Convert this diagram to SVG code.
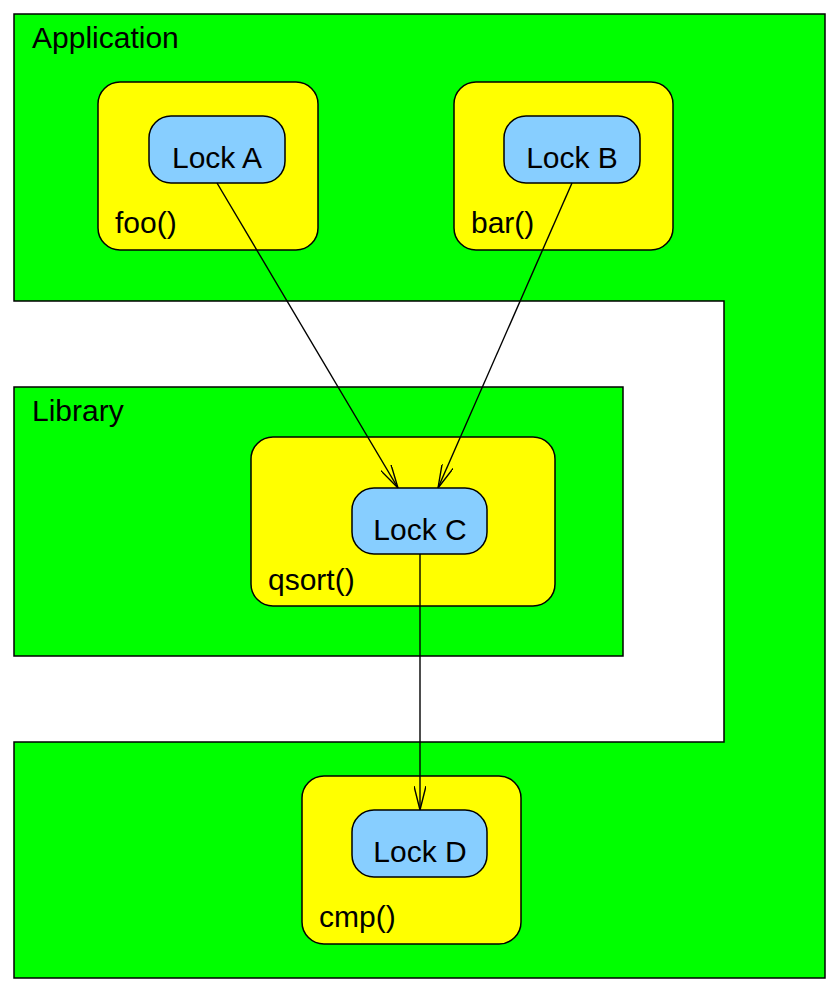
<svg xmlns="http://www.w3.org/2000/svg" width="840" height="994" viewBox="0 0 840 994">
<defs>
<style>
.grn{fill:#00ff00;stroke:#000;stroke-width:1.5}
.fn{fill:#ffff00;stroke:#000;stroke-width:1.5}
.lk{fill:#87ceff;stroke:#000;stroke-width:1.5}
text{font-family:"Liberation Sans",Arial,sans-serif;font-size:30px;fill:#000}
.c{text-anchor:middle}
.ed{fill:none;stroke:#000;stroke-width:1.4}
</style>
<marker id="ah" viewBox="0 0 24 12" refX="24" refY="6" markerWidth="24" markerHeight="12" markerUnits="userSpaceOnUse" orient="auto">
<path d="M0,0 L24,6 L0,12" fill="none" stroke="#000" stroke-width="1.4"/>
</marker>
</defs>
<rect width="840" height="994" fill="#fff"/>
<g id="application">
<path class="grn" d="M14,14 H825 V978 H14 V742 H724 V301 H14 Z"/>
<text x="32" y="48">Application</text>
</g>
<g id="library">
<rect class="grn" x="14" y="387" width="609" height="269"/>
<text x="32" y="421">Library</text>
</g>
<g id="foo">
<rect class="fn" x="98" y="82" width="220" height="168" rx="22"/>
<text x="115" y="233">foo()</text>
</g>
<g id="bar">
<rect class="fn" x="454" y="82" width="219" height="168" rx="22"/>
<text x="471" y="233">bar()</text>
</g>
<g id="qsort">
<rect class="fn" x="251" y="437" width="304" height="169" rx="22"/>
<text x="268" y="590">qsort()</text>
</g>
<g id="cmp">
<rect class="fn" x="302" y="776" width="219" height="168" rx="22"/>
<text x="319" y="927">cmp()</text>
</g>
<g id="lockA">
<rect class="lk" x="149" y="116" width="136" height="67" rx="22"/>
<text class="c" x="217" y="168">Lock A</text>
</g>
<g id="lockB">
<rect class="lk" x="504" y="116" width="136" height="67" rx="22"/>
<text class="c" x="572" y="168">Lock B</text>
</g>
<g id="lockC">
<rect class="lk" x="352" y="488" width="135" height="66" rx="22"/>
<text class="c" x="420" y="540">Lock C</text>
</g>
<g id="lockD">
<rect class="lk" x="352" y="810" width="135" height="67" rx="22"/>
<text class="c" x="420" y="862">Lock D</text>
</g>
<g id="connectors">
<path class="ed" d="M217,183 L398,488" marker-end="url(#ah)"/>
<path class="ed" d="M572,183 L438,488" marker-end="url(#ah)"/>
<path class="ed" d="M420,554 L420,810" marker-end="url(#ah)"/>
</g>
</svg>
